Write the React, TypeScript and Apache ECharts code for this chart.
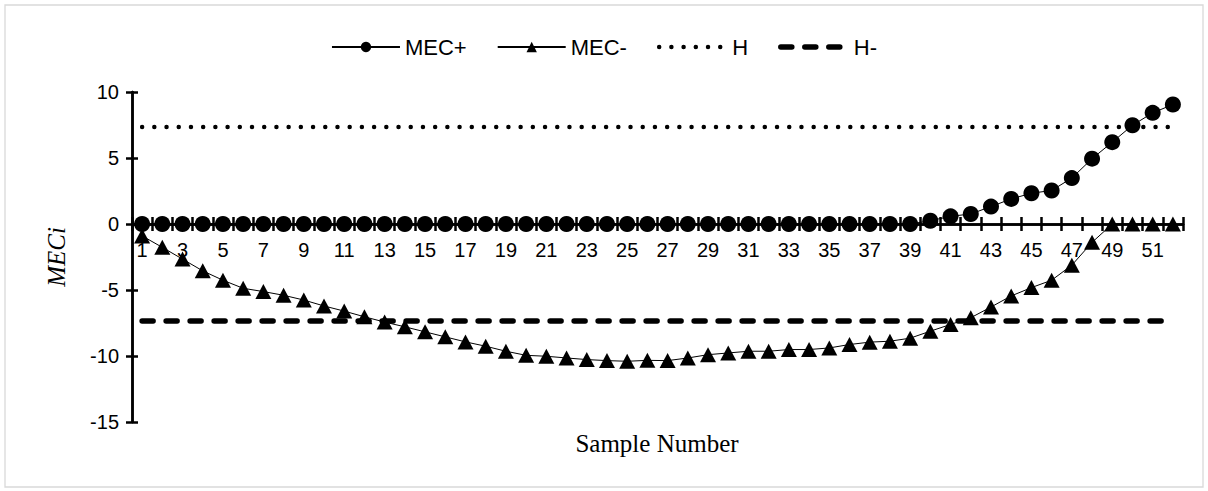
import React, { useEffect, useRef } from "react";
import * as echarts from "echarts";

const categories = Array.from({ length: 52 }, (_, i) => String(i + 1));

const mecPlus = [
  0, 0, 0, 0, 0, 0, 0, 0, 0, 0,
  0, 0, 0, 0, 0, 0, 0, 0, 0, 0,
  0, 0, 0, 0, 0, 0, 0, 0, 0, 0,
  0, 0, 0, 0, 0, 0, 0, 0, 0,
  0.25, 0.58, 0.76, 1.32, 1.9, 2.33, 2.54, 3.48, 4.95, 6.2, 7.48, 8.42, 9.05,
];

const mecMinus = [
  -0.9, -1.77, -2.66, -3.55, -4.26, -4.87, -5.12, -5.4, -5.76, -6.21,
  -6.6, -7.03, -7.43, -7.79, -8.17, -8.55, -8.93, -9.26, -9.64, -9.95,
  -10.02, -10.15, -10.27, -10.35, -10.4, -10.33, -10.35, -10.15, -9.9, -9.77,
  -9.64, -9.64, -9.51, -9.51, -9.39, -9.13, -8.95, -8.88, -8.65, -8.12,
  -7.61, -7.1, -6.29, -5.45, -4.82, -4.26, -3.12, -1.39,
  0, 0, 0, 0,
];

const hLimit = 7.35;
const hMinusLimit = -7.35;

const yTicks = { min: -15, max: 10, interval: 5 };

const SANS = '"Liberation Sans", Arial, sans-serif';
const SERIF = '"Liberation Serif", "Times New Roman", serif';

// plot box layout
const GRID = { left: 132, right: 25, top: 92, bottom: 69 };
const PLOT_H = 491 - GRID.top - GRID.bottom;
// distance from grid bottom up to the value-0 line (x axis crosses at 0)
const ZERO_OFFSET = -(PLOT_H * (0 - yTicks.min)) / (yTicks.max - yTicks.min);

export default function App() {
  const ref = useRef<HTMLDivElement>(null);
  useEffect(() => {
    const chart = echarts.init(ref.current!, null, { renderer: "svg" });
    const axisLineStyle = { color: "#000", width: 2.5 };
    const dotStyle = { color: "#000", width: 4.5, type: [0.01, 12.2], cap: "round" };
    const dashStyle = { color: "#000", width: 5.5, type: [11, 13], cap: "round" };
    const hiddenSymbol = { opacity: 0, color: "transparent", borderWidth: 0 };
    chart.setOption({
      animation: false,
      backgroundColor: "#fff",
      grid: { ...GRID, containLabel: false },
      legend: {
        data: [
          { name: "MEC+" },
          { name: "MEC-" },
          { name: "H", itemStyle: hiddenSymbol, lineStyle: dotStyle },
          { name: "H-", itemStyle: hiddenSymbol, lineStyle: dashStyle },
        ],
        left: "center",
        top: 31,
        itemWidth: 68,
        itemHeight: 13,
        itemGap: 30,
        textStyle: { fontSize: 22, fontFamily: SANS, color: "#000" },
      },
      xAxis: [
        {
          type: "category",
          data: categories,
          boundaryGap: true,
          position: "bottom",
          offset: ZERO_OFFSET,
          axisLine: { onZero: false, lineStyle: axisLineStyle },
          axisTick: { show: true, interval: 0, length: 7, lineStyle: axisLineStyle },
          axisLabel: { interval: 1, margin: 16, fontSize: 20, fontFamily: SANS, color: "#000" },
          splitLine: { show: false },
        },
        {
          type: "category",
          data: categories,
          boundaryGap: true,
          position: "bottom",
          offset: ZERO_OFFSET,
          axisLine: { onZero: false, lineStyle: axisLineStyle },
          axisTick: { show: true, inside: true, interval: 0, length: 7, lineStyle: axisLineStyle },
          axisLabel: { show: false },
          splitLine: { show: false },
        },
      ],
      yAxis: [
        {
          type: "value",
          position: "left",
          min: yTicks.min,
          max: yTicks.max,
          interval: yTicks.interval,
          axisLine: { show: true, onZero: false, lineStyle: axisLineStyle },
          axisTick: { show: true, length: 6, lineStyle: axisLineStyle },
          axisLabel: { margin: 13, fontSize: 20, fontFamily: SANS, color: "#000" },
          splitLine: { show: false },
        },
        {
          type: "value",
          position: "left",
          min: yTicks.min,
          max: yTicks.max,
          interval: yTicks.interval,
          axisLine: { show: true, onZero: false, lineStyle: axisLineStyle },
          axisTick: { show: true, inside: true, length: 6, lineStyle: axisLineStyle },
          axisLabel: { show: false },
          splitLine: { show: false },
        },
      ],
      series: [
        {
          name: "MEC+",
          type: "line",
          data: mecPlus,
          symbol: "circle",
          symbolSize: 16,
          showAllSymbol: true,
          lineStyle: { color: "#000", width: 1 },
          itemStyle: { color: "#000" },
          z: 3,
        },
        {
          name: "MEC-",
          type: "line",
          data: mecMinus,
          symbol: "triangle",
          symbolSize: [16, 15],
          showAllSymbol: true,
          lineStyle: { color: "#000", width: 1 },
          itemStyle: { color: "#000" },
          z: 3,
        },
        {
          name: "H",
          type: "line",
          data: categories.map(() => hLimit),
          symbol: "none",
          lineStyle: dotStyle,
          itemStyle: { color: "#000" },
          z: 2,
        },
        {
          name: "H-",
          type: "line",
          data: categories.map(() => hMinusLimit),
          symbol: "none",
          lineStyle: dashStyle,
          itemStyle: { color: "#000" },
          z: 2,
        },
      ],
      graphic: [
        {
          type: "rect",
          shape: { x: 5, y: 5, width: 1198, height: 482 },
          style: { fill: "none", stroke: "#d9d9d9", lineWidth: 1.3 },
          silent: true,
          z: -1,
        },
        {
          type: "text",
          x: 657,
          y: 443,
          style: {
            text: "Sample Number",
            fontSize: 25,
            fontFamily: SERIF,
            fill: "#000",
            align: "center",
            verticalAlign: "middle",
          },
        },
        {
          type: "text",
          x: 56,
          y: 257,
          rotation: Math.PI / 2,
          style: {
            text: "MECi",
            fontSize: 25,
            fontStyle: "italic",
            fontFamily: SERIF,
            fill: "#000",
            align: "center",
            verticalAlign: "middle",
          },
        },
      ],
    });
    return () => chart.dispose();
  }, []);
  return (
    <div
      ref={ref}
      style={{ position: "fixed", left: 0, top: 0, width: 1208, height: 491, background: "#fff" }}
    />
  );
}
